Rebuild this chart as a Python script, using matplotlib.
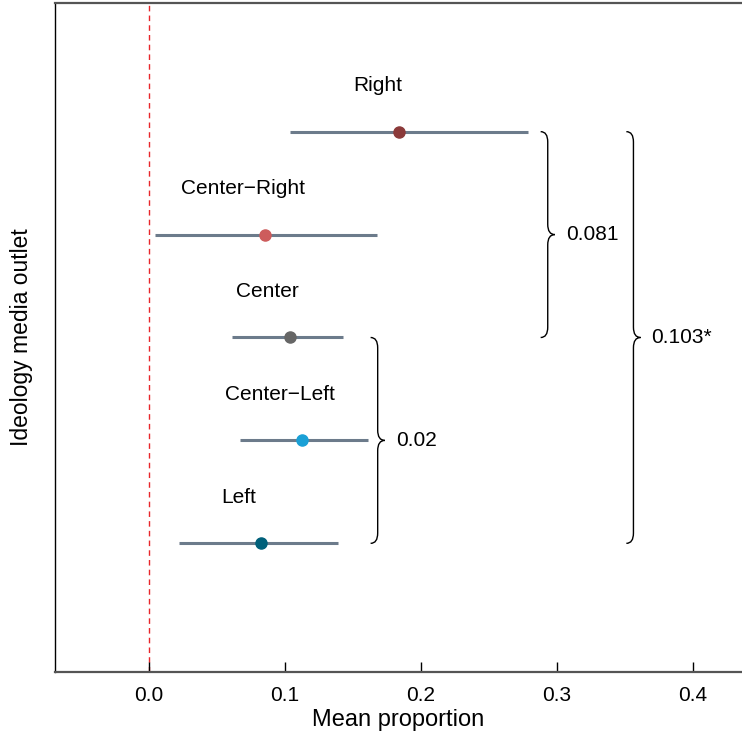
import matplotlib
matplotlib.use("Agg")
import matplotlib.pyplot as plt
from matplotlib.path import Path
from matplotlib.patches import PathPatch

plt.rcParams['font.family'] = ['Liberation Sans', 'DejaVu Sans']

groups = ['Right', 'Center\u2212Right', 'Center', 'Center\u2212Left', 'Left']
rows = [5, 4, 3, 2, 1]
means = [0.184, 0.0855, 0.1034, 0.1127, 0.0821]
lower = [0.1035, 0.0042, 0.0612, 0.0667, 0.0221]
upper = [0.279, 0.168, 0.1426, 0.1613, 0.139]
dot_colors = ['#8B3A3A', '#CD5C5C', '#666666', '#1AA0D6', '#00607A']

# brace annotations: (top row, bottom row, x of brace, label)
brace_top = [5, 5, 3]
brace_bot = [3, 1, 1]
brace_x = [0.288, 0.351, 0.163]
brace_txt = ['0.081', '0.103*', '0.02']


def draw_brace(ax, x0, ytop, ybot, w=0.0052, r=0.1):
    ym = (ytop + ybot) / 2
    xs = x0 + w
    xt = x0 + 2 * w
    verts = [(x0, ytop), (xs, ytop), (xs, ytop - r),
             (xs, ym + r), (xs, ym), (xt, ym),
             (xs, ym), (xs, ym - r),
             (xs, ybot + r), (xs, ybot), (x0, ybot)]
    codes = [Path.MOVETO, Path.CURVE3, Path.CURVE3,
             Path.LINETO, Path.CURVE3, Path.CURVE3,
             Path.CURVE3, Path.CURVE3,
             Path.LINETO, Path.CURVE3, Path.CURVE3]
    ax.add_patch(PathPatch(Path(verts, codes), fill=False, lw=1.0, color='black'))
    return xt, ym


fig = plt.figure(figsize=(7.42, 7.34), dpi=100)
ax = fig.add_axes([55 / 742, 62 / 734, 1 - 55 / 742, 669 / 734])

ax.axvline(0, color='#E8262A', lw=1.0, ls=(0, (4, 3)), zorder=1)

for g, y, m, lo, hi, c in zip(groups, rows, means, lower, upper, dot_colors):
    ax.plot([lo, hi], [y, y], color='#6C7B8B', lw=2.2, solid_capstyle='butt', zorder=2)
    ax.plot(m, y, 'o', color=c, ms=8, mec=c, zorder=3)
    ax.text(m - 0.016, y + 0.45, g, ha='center', va='center', fontsize=15)

for yt, yb, bx, t in zip(brace_top, brace_bot, brace_x, brace_txt):
    tx, ty = draw_brace(ax, bx, yt, yb)
    ax.text(tx + 0.008, ty, t, ha='left', va='center', fontsize=15)

ax.set_xlim(-0.069, 0.436)
ax.set_ylim(-0.25, 6.25)
ax.set_xticks([0.0, 0.1, 0.2, 0.3, 0.4])
ax.set_xticklabels(['0.0', '0.1', '0.2', '0.3', '0.4'])
ax.set_yticks([])
ax.tick_params(axis='x', direction='in', length=7, width=1, labelsize=15, pad=10)
ax.set_xlabel('Mean proportion', fontsize=17, labelpad=3)
ax.set_ylabel('Ideology media outlet', fontsize=16.5, labelpad=16)

ax.spines['right'].set_visible(False)
ax.spines['left'].set_color('black')
ax.spines['left'].set_linewidth(1.0)
for s in ['top', 'bottom']:
    ax.spines[s].set_color('#555555')
    ax.spines[s].set_linewidth(1.6)

fig.savefig('out.png', dpi=100)
